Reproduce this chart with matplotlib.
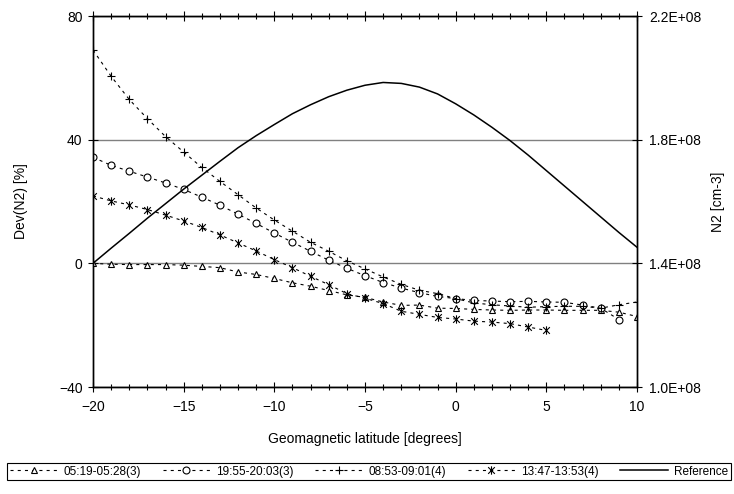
import matplotlib
matplotlib.use("Agg")
import matplotlib.pyplot as plt
from matplotlib.path import Path
from matplotlib.ticker import MultipleLocator, FuncFormatter

plt.rcParams['font.family'] = ['Liberation Sans', 'DejaVu Sans']
plt.rcParams['lines.scale_dashes'] = False

# ---- data ----
lat = list(range(-20, 11))
lat_star = list(range(-20, 6))
lat_circ = list(range(-20, 10))

s_tri = [0.0, -0.3, -0.4, -0.4, -0.4, -0.6, -1.0, -1.4, -2.8, -3.6, -4.9,
         -6.3, -7.4, -8.8, -10.2, -11.0, -12.5, -13.6, -13.5, -14.5, -14.6,
         -14.9, -15.1, -15.2, -15.1, -15.1, -15.2, -15.2, -15.2, -15.8, -17.2]
s_circ = [34.3, 31.7, 29.8, 27.9, 26.0, 23.9, 21.4, 18.8, 15.9, 12.9, 9.8,
          6.8, 3.9, 1.0, -1.6, -4.0, -6.2, -8.0, -9.5, -10.7, -11.4,
          -12.0, -12.2, -12.4, -12.3, -12.5, -12.6, -13.5, -14.5, -18.2]
s_plus = [69.0, 60.5, 53.0, 46.8, 41.0, 36.0, 31.0, 26.5, 22.2, 17.9, 14.0,
          10.4, 6.8, 3.9, 0.8, -1.8, -4.4, -6.8, -8.7, -9.8, -11.4,
          -12.8, -13.4, -13.8, -14.2, -14.0, -13.9, -13.9, -14.5, -13.4, -12.5]
s_star = [21.8, 20.2, 18.9, 17.4, 15.6, 13.7, 11.6, 9.2, 6.6, 4.0, 1.2,
          -1.4, -4.2, -6.9, -9.8, -11.3, -13.0, -15.5, -16.5, -17.5, -18.0,
          -18.7, -19.0, -19.5, -20.6, -21.7]
ref_n2 = [1.400e8, 1.449e8, 1.497e8, 1.546e8, 1.593e8, 1.640e8, 1.685e8, 1.730e8,
          1.774e8, 1.813e8, 1.849e8, 1.884e8, 1.913e8, 1.939e8, 1.960e8, 1.976e8,
          1.985e8, 1.982e8, 1.970e8, 1.948e8, 1.916e8, 1.880e8, 1.840e8, 1.797e8,
          1.750e8, 1.700e8, 1.650e8, 1.600e8, 1.550e8, 1.500e8, 1.452e8]

labels = ['05:19-05:28(3)', '19:55-20:03(3)', '08:53-09:01(4)', '13:47-13:53(4)', 'Reference']
x_ticks = [-20, -15, -10, -5, 0, 5, 10]
y_ticks = [-40, 0, 40, 80]
y2_ticks = [1.0e8, 1.4e8, 1.8e8, 2.2e8]

# ---- styles ----
star_marker = Path([(-1, -1), (1, 1), (-1, 1), (1, -1), (0, -1.25), (0, 1.25)],
                   [Path.MOVETO, Path.LINETO, Path.MOVETO, Path.LINETO, Path.MOVETO, Path.LINETO])
dash = (0, (2.2, 3.0))
common = dict(color='black', lw=0.8, ls=dash, mec='black', mew=0.8)

fig = plt.figure(figsize=(7.34, 4.94), dpi=100)
ax = fig.add_axes([93/734, 1-387/494, (637-93)/734, (387-16)/494])

ax.set_xlim(-20, 10)
ax.set_ylim(-40, 80)
ax.set_yticks(y_ticks)
ax.set_xticks(x_ticks)
ax.xaxis.set_minor_locator(MultipleLocator(1))
ax.grid(axis='y', color='#808080', lw=1.0)
ax.set_axisbelow(True)

l1, = ax.plot(lat, s_tri, marker='^', ms=5, mfc='white', **common)
l2, = ax.plot(lat_circ, s_circ, marker='o', ms=5, mfc='white', **common)
l3, = ax.plot(lat, s_plus, marker='+', ms=6, **common)
l4, = ax.plot(lat_star, s_star, marker=star_marker, ms=6, **common)

ax2 = ax.twinx()
ax2.set_ylim(1.0e8, 2.2e8)
ax2.set_yticks(y2_ticks)
ax2.yaxis.set_major_formatter(FuncFormatter(lambda v, p: f"{v:.1E}"))
l5, = ax2.plot(lat, ref_n2, color='black', lw=1.1)

for a in (ax, ax2):
    for sp in a.spines.values():
        sp.set_linewidth(1.0)
        sp.set_color('black')

ax.tick_params(axis='x', which='major', direction='inout', length=7, width=0.8,
               labelsize=10, top=True, pad=6)
ax.tick_params(axis='y', which='major', direction='inout', length=7, width=0.8,
               labelsize=10, pad=4)
ax.tick_params(axis='x', which='minor', direction='inout', length=4, width=0.8, top=True)
ax2.tick_params(axis='y', which='major', direction='inout', length=7, width=0.8,
                labelsize=10, pad=5)

ax.set_xlabel('Geomagnetic latitude [degrees]', fontsize=10, labelpad=13)
ax.set_ylabel('Dev(N2) [%]', fontsize=10, labelpad=22)
ax2.set_ylabel('N2 [cm-3]', fontsize=10, labelpad=7)

leg = fig.legend([l1, l2, l3, l4, l5], labels, loc='center',
                 bbox_to_anchor=(369/734, 1-471.5/494),
                 ncol=5, frameon=True, fancybox=False, edgecolor='black', framealpha=1,
                 fontsize=8.5, handlelength=4.0, handletextpad=0.5, columnspacing=1.85,
                 borderpad=0.25, borderaxespad=0, numpoints=1)
leg.get_frame().set_linewidth(0.8)

fig.savefig('out.png', dpi=100)
